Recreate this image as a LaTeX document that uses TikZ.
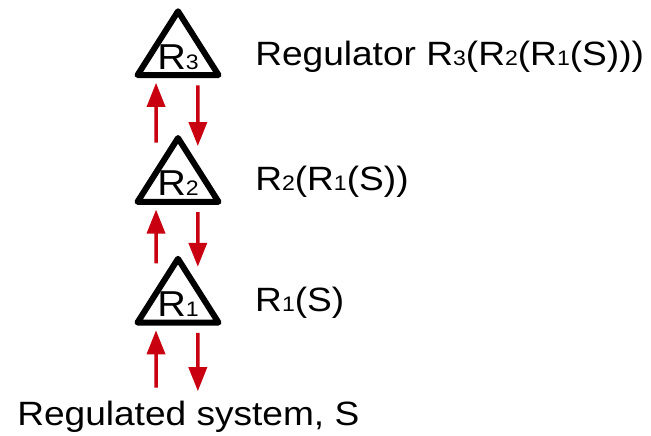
\documentclass[tikz,border=0pt]{standalone}
\usepackage{fontspec}
\setmainfont{Liberation Sans}
\usepackage{xcolor}
\usetikzlibrary{arrows.meta, positioning, shapes.geometric}

\definecolor{sigred}{RGB}{200,0,16}
% small index digits, set on the baseline
\newcommand{\lsub}[1]{{\fontsize{21}{21}\selectfont #1}}
\newcommand{\tsub}[1]{{\fontsize{21}{21}\selectfont #1}}

\begin{document}
\begin{tikzpicture}[
    x=1pt, y=1pt, xscale=1.1,
    every node/.style={transform shape},
    reg/.style={draw, regular polygon, regular polygon sides=3, minimum size=85pt, line width=6pt, line join=round, inner sep=0pt},
    tri/.style={inner sep=0pt, yshift=-3pt, font=\fontsize{36}{36}\selectfont},
    lbl/.style={anchor=base west, inner sep=0pt, font=\fontsize{33.7}{36}\selectfont},
    line/.style={-{Triangle[length=24pt, width=18pt]}, line width=3.5pt, sigred}
]
\useasboundingbox (0,0) rectangle (591.8,435);

% Regulators
\node[reg, label={[tri]center:R\tsub{1}}] (r1) at (161.8,133.7) {};
\node[reg, label={[tri]center:R\tsub{2}}, above=48pt of r1] (r2) {};
\node[reg, label={[tri]center:R\tsub{3}}, above=54pt of r2] (r3) {};

% Labels
\node[lbl] (l1) at ([xshift=70pt, yshift=-10pt]r1.center) {R\lsub{1}(S)};
\node[lbl] (l2) at ([xshift=70pt, yshift=-10pt]r2.center) {R\lsub{2}(R\lsub{1}(S))};
\node[lbl] (l3) at ([xshift=70pt, yshift=-12pt]r3.center) {Regulator R\lsub{3}(R\lsub{2}(R\lsub{1}(S)))};

% System
\node[lbl] (sys) at (15.5,9.3) {Regulated system, S};
\coordinate (s) at (r1 |- sys.base);

% Arrows
\draw[line] ([xshift=-20pt, yshift=38pt]s) -- ([xshift=-20pt, yshift=-29pt]r1.center);
\draw[line] ([xshift=18pt, yshift=-31.5pt]r1.center) -- ([xshift=18pt, yshift=34.5pt]s);
\draw[line] ([xshift=-20pt, yshift=38pt]r1.center) -- ([xshift=-20pt, yshift=-29pt]r2.center);
\draw[line] ([xshift=18pt, yshift=-31.5pt]r2.center) -- ([xshift=18pt, yshift=34.5pt]r1.center);
\draw[line] ([xshift=-20pt, yshift=38pt]r2.center) -- ([xshift=-20pt, yshift=-29pt]r3.center);
\draw[line] ([xshift=18pt, yshift=-31.5pt]r3.center) -- ([xshift=18pt, yshift=34.5pt]r2.center);

\end{tikzpicture}
\end{document}
